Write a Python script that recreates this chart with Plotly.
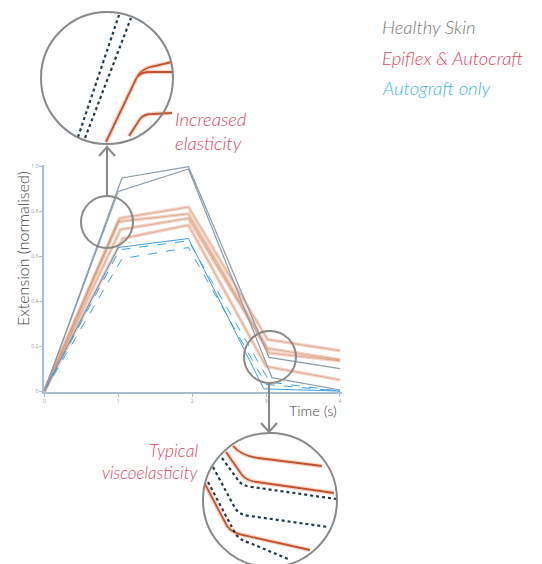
import plotly.graph_objects as go

# ---------------- data ----------------
healthy_t = [[0, 1.05, 1.95, 3.04, 4.0], [0, 1.0, 1.95, 3.08, 4.0]]
healthy_y = [[0, 0.95, 1.0, 0.15, 0.10], [0, 0.89, 0.99, 0.06, 0.005]]

epiflex_t = [[0, 1.02, 1.95, 3.02, 4.0], [0, 1.0, 1.95, 3.02, 4.0],
             [0, 1.03, 1.95, 3.04, 4.0], [0, 1.06, 1.95, 3.0, 4.0]]
epiflex_y = [[0, 0.77, 0.82, 0.23, 0.18], [0, 0.755, 0.79, 0.19, 0.14],
             [0, 0.72, 0.77, 0.17, 0.135], [0, 0.68, 0.74, 0.11, 0.05]]

autograft_t = [[0, 1.0, 1.95, 2.97, 4.0], [0, 1.02, 1.95, 3.05, 4.0], [0, 1.05, 1.95, 3.0, 4.0]]
autograft_y = [[0, 0.64, 0.68, 0.01, 0.0], [0, 0.63, 0.67, 0.04, 0.0], [0, 0.59, 0.64, 0.03, 0.0]]
autograft_dash = ["solid", "dash", "dash"]

y_ticks = [0, 0.2, 0.4, 0.6, 0.8, 1.0]
y_tick_text = ["0", "0.2", "0.4", "0.6", "0.8", "1.0"]
x_ticks = [0, 1, 2, 3, 4]
x_tick_text = ["0", "1", "2", "3", "4"]

legend_labels = ["Healthy Skin", "Epiflex & Autocraft", "Autograft only"]

# ---------------- layout geometry ----------------
W, H = 542, 564
OFF = 8                     # page offset of the figure
PLOT_L, PLOT_B = 44, 392    # plot area corner in page pixels
PW, PH = 298, 227
ML = PLOT_L - OFF
MB = H - (PLOT_B - OFF)
MT = H - MB - PH
MR = W - ML - PW


def px(x):
    return (x - PLOT_L) / PW


def py(y):
    return (PLOT_B - y) / PH


C_HEALTHY = "#8a9bab"
C_EPI = "rgba(228,160,124,0.45)"
C_EPI_CORE = "rgba(190,105,70,0.45)"
C_AUTO = "#3d9fe0"
C_RED = "#d9475c"
C_GREY_TXT = "#7a7a7a"
C_BLUE_TXT = "#3db5ea"

fig = go.Figure()

for t, y in zip(epiflex_t, epiflex_y):
    fig.add_trace(go.Scatter(x=t, y=y, mode="lines", line=dict(color=C_EPI, width=3.5),
                             showlegend=False, hoverinfo="skip"))
    fig.add_trace(go.Scatter(x=t, y=y, mode="lines", line=dict(color=C_EPI_CORE, width=0.8),
                             showlegend=False, hoverinfo="skip"))

for t, y, d in zip(autograft_t, autograft_y, autograft_dash):
    fig.add_trace(go.Scatter(x=t, y=y, mode="lines",
                             line=dict(color=C_AUTO, width=1, dash=d),
                             showlegend=False, hoverinfo="skip"))

for t, y in zip(healthy_t, healthy_y):
    fig.add_trace(go.Scatter(x=t, y=y, mode="lines", line=dict(color=C_HEALTHY, width=1.2),
                             showlegend=False, hoverinfo="skip"))

axis_col = "#aabdd0"
fig.update_xaxes(range=[-0.005, PW / 73.9 - 0.005], showgrid=False, zeroline=False,
                 showline=True, linecolor=axis_col, linewidth=1.5,
                 ticks="outside", ticklen=3, tickcolor=axis_col,
                 tickvals=x_ticks, ticktext=x_tick_text,
                 tickfont=dict(size=5, color="#999"))
fig.update_yaxes(range=[-0.004, PH / 224.4 - 0.004], showgrid=False, zeroline=False,
                 showline=True, linecolor=axis_col, linewidth=1.5,
                 ticks="outside", ticklen=3, tickcolor=axis_col,
                 tickvals=y_ticks, ticktext=y_tick_text,
                 tickfont=dict(size=5, color="#999"))

shapes = []
GREY = "#888888"


def circle(cx, cy, r):
    shapes.append(dict(type="circle", xref="paper", yref="paper",
                       x0=px(cx - r), x1=px(cx + r), y0=py(cy + r), y1=py(cy - r),
                       line=dict(color=GREY, width=2), layer="above"))


def path(pts_str, color, width, dash="solid"):
    toks = pts_str.split()
    out = []
    coord_is_x = True
    for tok in toks:
        if tok.isalpha():
            out.append(tok)
            coord_is_x = True
        else:
            v = float(tok)
            out.append(f"{px(v):.5f}" if coord_is_x else f"{py(v):.5f}")
            coord_is_x = not coord_is_x
    shapes.append(dict(type="path", xref="paper", yref="paper", path=" ".join(out),
                       line=dict(color=color, width=width, dash=dash), layer="above"))


def svg(cmds):
    parts = []
    for c, nums in cmds:
        parts.append(c)
        parts.extend(str(n) for n in nums)
    return " ".join(parts)


# white fill behind magnified circles
for (cx, cy, r) in [(107, 78, 66), (270, 500, 67)]:
    shapes.append(dict(type="circle", xref="paper", yref="paper",
                       x0=px(cx - r), x1=px(cx + r), y0=py(cy + r), y1=py(cy - r),
                       fillcolor="white", line=dict(width=0), layer="above"))

ORG = "#c4532d"
ORG_HALO = "rgba(225,130,90,0.3)"
DOT = "#1d3a4f"

# top magnified content
top_orange = [
    svg([("M", [106, 142]), ("L", [136, 79]), ("Q", [140, 70, 150, 67]), ("L", [172, 62])]),
    svg([("M", [138, 76]), ("Q", [142, 72, 150, 72]), ("L", [173, 72])]),
    svg([("M", [129, 136]), ("L", [140, 119]), ("Q", [144, 114, 152, 114]), ("L", [172, 113])]),
]
for p in top_orange:
    path(p, ORG_HALO, 4.5)
    path(p, ORG, 1.8)
path(svg([("M", [78, 137]), ("L", [119, 15])]), DOT, 2.2, "dot")
path(svg([("M", [85, 138]), ("L", [131, 18])]), DOT, 2.2, "dot")

# bottom magnified content
bot_orange = [
    svg([("M", [233, 446]), ("Q", [242, 456, 258, 458]), ("L", [322, 466])]),
    svg([("M", [226, 452]), ("L", [242, 475]), ("Q", [247, 481, 257, 482]), ("L", [334, 493])]),
    svg([("M", [205, 484]), ("L", [227, 526]), ("Q", [232, 533, 243, 535]), ("L", [310, 550])]),
]
for p in bot_orange:
    path(p, ORG_HALO, 4.5)
    path(p, ORG, 1.8)
path(svg([("M", [222, 458]), ("L", [238, 480]), ("Q", [242, 486, 252, 487]), ("L", [336, 499])]), DOT, 2.2, "dot")
path(svg([("M", [213, 467]), ("L", [235, 508]), ("Q", [239, 515, 250, 516]), ("L", [328, 527])]), DOT, 2.2, "dot")
path(svg([("M", [208, 482]), ("L", [235, 533]), ("Q", [239, 540, 250, 543]), ("L", [288, 559])]), DOT, 2.2, "dot")

# circles
circle(107, 78, 66)
circle(270, 500, 67)
circle(107, 222, 26)
circle(270, 357, 26)

# arrows
path(svg([("M", [107, 196]), ("L", [107, 146])]), GREY, 2)
path(svg([("M", [99, 156]), ("L", [107, 147]), ("L", [115, 156])]), GREY, 2)
path(svg([("M", [269, 383]), ("L", [269, 432])]), GREY, 2)
path(svg([("M", [261, 423]), ("L", [269, 432]), ("L", [277, 423])]), GREY, 2)

annotations = []


def text(s, x, y, color, size, xanchor="left", italic=True, angle=0, weight=300):
    annotations.append(dict(text=s, x=px(x), y=py(y), xref="paper", yref="paper",
                            xanchor=xanchor, yanchor="middle", showarrow=False,
                            textangle=angle,
                            font=dict(family="Lato", size=size, color=color,
                                      style="italic" if italic else "normal", weight=weight)))


text(legend_labels[0], 380, 27, C_GREY_TXT, 18.5)
text(legend_labels[1], 380, 58, C_RED, 18.5)
text(legend_labels[2], 380, 88, C_BLUE_TXT, 18.5)
text("Increased", 173, 119, C_RED, 18.5)
text("elasticity", 173, 143, C_RED, 18.5)
text("Typical", 200, 450, C_RED, 17.5, xanchor="right")
text("viscoelasticity", 200, 472, C_RED, 17, xanchor="right")
text("Time (s)", 287, 410, "#444", 14.5, italic=False, weight=300)
annotations.append(dict(text="Extension (normalised)", x=px(22), y=py(249), xref="paper", yref="paper",
                        xanchor="center", yanchor="middle", showarrow=False, textangle=-90,
                        font=dict(family="Lato", size=16, color="#444", weight=300)))

fig.update_layout(width=W, height=H, margin=dict(l=ML, r=MR, t=MT, b=MB),
                  plot_bgcolor="white", paper_bgcolor="white",
                  shapes=shapes, annotations=annotations, showlegend=False)

fig.write_html("out.html")
